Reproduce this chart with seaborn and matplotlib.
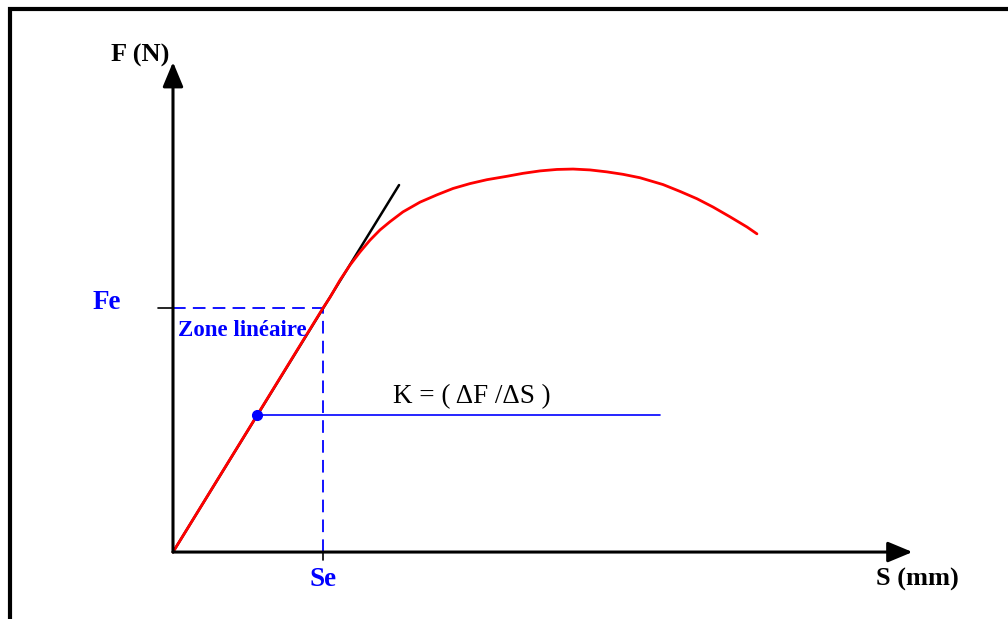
import pandas as pd
import matplotlib
matplotlib.use('Agg')
import matplotlib.pyplot as plt
from matplotlib.patches import Rectangle
import seaborn as sns

# Force / displacement curve (S in mm, F in N)
curve_s = [0, 1.0, 1.047, 1.113, 1.18, 1.247, 1.313, 1.38, 1.447, 1.533, 1.647,
           1.76, 1.867, 1.98, 2.093, 2.227, 2.333, 2.447, 2.56, 2.667, 2.78,
           2.893, 3.0, 3.113, 3.267, 3.38, 3.493, 3.6, 3.713, 3.827, 3.893]
curve_f = [0, 250, 261, 278.5, 294, 307.5, 319.5, 330, 338.5, 348.5, 358.5,
           366, 372.5, 377.5, 381.5, 385, 388, 390.5, 392, 392.4, 391.5,
           389.5, 387, 383.5, 376.5, 369.5, 362, 353.5, 343.5, 333, 326]

# tangent of the linear zone
tangent_s = [0, 1.507]
tangent_f = [0, 376]

# elastic limit
se = 1.0
fe = 250

# point used for the slope K
k_s = 0.56
k_f = 140
k_line_end = 3.25

curve = pd.DataFrame({'S': curve_s, 'F': curve_f})
tangent = pd.DataFrame({'S': tangent_s, 'F': tangent_f})

sns.set_style('white')
plt.rcParams['font.family'] = ['Liberation Serif', 'DejaVu Serif']
plt.rcParams['text.color'] = 'black'

fig = plt.figure(figsize=(10.08, 6.19), dpi=100)
ax = fig.add_axes([0, 0, 1, 1])
ax.set_xlim(-1.1533, 5.5667)
ax.set_ylim(-68.6, 565.6)
ax.axis('off')

blue = '#0000ff'

# axes with arrows
ax.annotate('', xy=(4.93, 0), xytext=(0, 0),
            arrowprops=dict(arrowstyle='-|>,head_length=0.6,head_width=0.25',
                            color='black', lw=2.2, mutation_scale=25, shrinkA=0, shrinkB=0))
ax.annotate('', xy=(0, 502), xytext=(0, 0),
            arrowprops=dict(arrowstyle='-|>,head_length=0.6,head_width=0.25',
                            color='black', lw=2.2, mutation_scale=25, shrinkA=0, shrinkB=0))

# dashed guides for Fe / Se
ax.plot([0, se], [fe, fe], color=blue, lw=1.3, dashes=(7, 4))
ax.plot([se, se], [0, fe], color=blue, lw=1.3, dashes=(7, 4))
ax.plot([-0.1, 0], [fe, fe], color='black', lw=1.2)
ax.plot([se, se], [0, -8], color='black', lw=1.2)

# tangent and curve
sns.lineplot(data=tangent, x='S', y='F', color='black', lw=1.8, ax=ax, sort=False)
sns.lineplot(data=curve, x='S', y='F', color='red', lw=2.0, ax=ax, sort=False)

# slope K
ax.plot([k_s, k_line_end], [k_f, k_f], color=blue, lw=1.2)
ax.plot([k_s], [k_f], 'o', color=blue, ms=7)

ax.text(-0.22, 509, 'F (N)', fontsize=19, fontweight='bold', ha='center', va='center')
ax.text(4.96, -27.7, 'S (mm)', fontsize=19, fontweight='bold', ha='center', va='center')
ax.text(-0.44, 256, 'Fe', fontsize=19.5, fontweight='bold', color=blue, ha='center', va='center')
ax.text(se, -27.7, 'Se', fontsize=19.5, fontweight='bold', color=blue, ha='center', va='center')
ax.text(0.033, 227, 'Zone linéaire', fontsize=16.5, fontweight='bold', color=blue, ha='left', va='center')
ax.text(1.467, 158.8, 'K = ( ΔF /ΔS )', fontsize=19.5, ha='left', va='center')

# frame around the figure
fig.patches.append(Rectangle((10 / 1008, -0.1), 1.2, 1 - 9 / 619 + 0.1,
                             transform=fig.transFigure, fill=False, lw=3, ec='black'))

plt.savefig('out.png', dpi=100)
